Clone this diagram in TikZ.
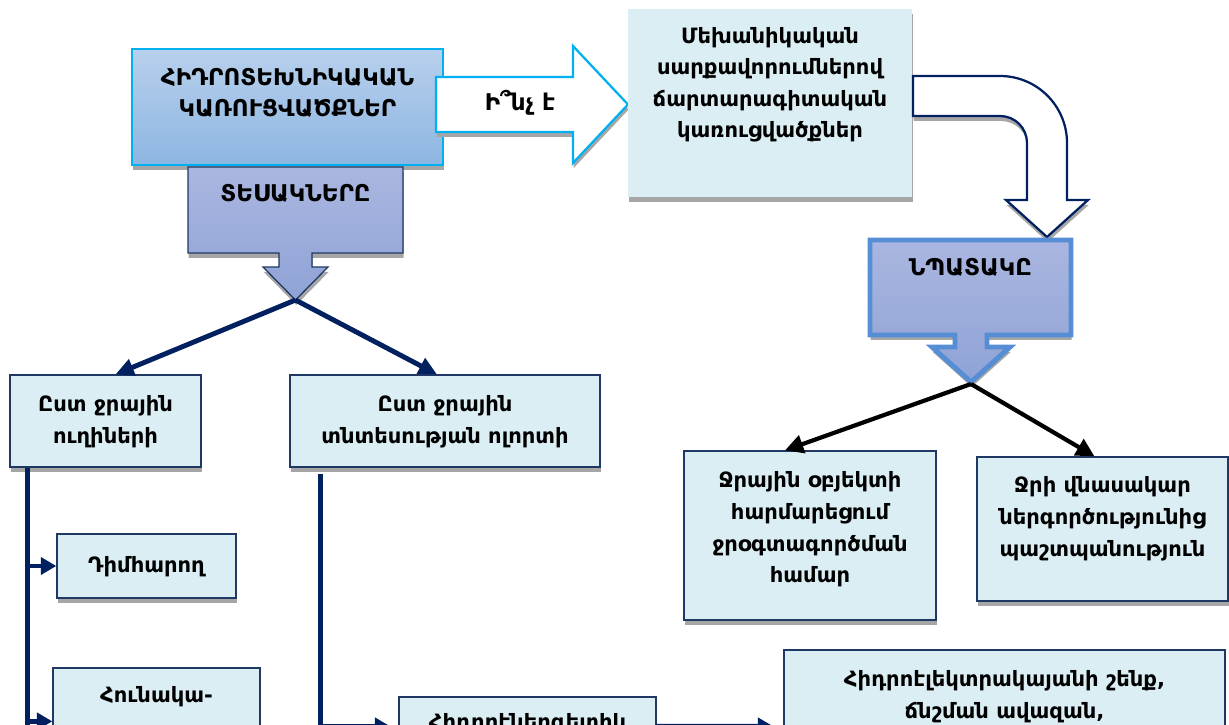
\documentclass[tikz,border=0pt]{standalone}
\usepackage{fontspec}
\setmainfont{DejaVu Sans}
\usetikzlibrary{arrows.meta, positioning, calc, shadows}
\definecolor{navyline}{RGB}{0,32,96}
\definecolor{boxfill}{RGB}{218,238,243}
\definecolor{boxedge}{RGB}{31,56,100}
\definecolor{cyanedge}{RGB}{0,176,240}
\definecolor{skytop}{RGB}{184,208,236}
\definecolor{skybot}{RGB}{141,182,226}
\definecolor{lavtop}{RGB}{170,182,224}
\definecolor{lavbot}{RGB}{143,163,214}
\definecolor{goaledge}{RGB}{85,142,213}
\definecolor{shadowgray}{RGB}{166,166,166}
% width, height, first baseline, text
\newcommand{\toptext}[4]{\parbox[c][#2][t]{#1}{\centering\rule{0pt}{#3}#4}}

\begin{document}
\begin{tikzpicture}[x=0.025cm, y=-0.025cm,
  font=\bfseries\fontsize{15}{22.5}\selectfont,
  capsfont/.style={font=\bfseries\fontsize{16.4}{21.7}\selectfont},
  shadowed/.style={drop shadow={shadow xshift=0.5pt, shadow yshift=-3.5pt, fill=shadowgray, opacity=1}},
  lightbox/.style={shadowed, draw=boxedge, line width=0.9pt, fill=boxfill, inner sep=0pt},
  skybox/.style={shadowed, capsfont, draw=cyanedge, line width=1pt, top color=skytop, bottom color=skybot, inner sep=0pt},
  lavshape/.style={shadowed, draw=boxedge, line width=0.9pt, top color=lavtop, bottom color=lavbot},
  goalshape/.style={shadowed, draw=goaledge, line width=3.5pt, top color=lavtop, bottom color=lavbot},
  hollowarrow/.style={shadowed, fill=white, line width=1.6pt},
  navyarrow/.style={draw=navyline, line width=3.5pt, -{Triangle[length=13pt, width=12pt]}},
  trunk/.style={draw=navyline, line width=3.5pt},
  branch/.style={draw=navyline, line width=3.5pt, -{Triangle[length=11pt, width=12pt]}},
  blackarrow/.style={draw=black, line width=3pt, -{Triangle[length=13pt, width=13pt]}}]

  \useasboundingbox[fill=white] (0,0) rectangle (1229,724);

  % top row
  \node[skybox] (hydro) at (287.5,107) {\toptext{7.775cm}{2.9cm}{26pt}{ՀԻԴՐՈՏԵԽՆԻԿԱԿԱՆ\\ԿԱՌՈՒՑՎԱԾՔՆԵՐ}};
  \path[lavshape] (188,167) -- (403,167) -- (403,253) -- (312,253) -- (312,267) -- (328,267)
    -- (295.5,300) -- (263,267) -- (279,267) -- (279,253) -- (188,253) -- cycle;
  \coordinate (typetip) at (295.5,300);
  \node[capsfont] (types) at (295.5,193.5) {ՏԵՍԱԿՆԵՐԸ};
  \path[hollowarrow, draw=cyanedge] (436,77) -- (573,77) -- (573,46) -- (628,104.5) -- (573,163) -- (573,132) -- (436,132) -- cycle;
  \node[capsfont] (whatis) at (520,103) {Ի՞նչ է};
  \node[shadowed, fill=boxfill, inner sep=0pt] (mech) at (770,103) {\toptext{7.1cm}{4.7cm}{24.2pt}{Մեխանիկական\\սարքավորումներով\\ճարտարագիտական\\կառուցվածքներ}};
  \path[hollowarrow, draw=navyline] (913,76) -- (1000,76) .. controls (1037,76) and (1067,106) .. (1067,143)
    -- (1067,200) -- (1088,200) -- (1047,237) -- (1006,200) -- (1027,200) -- (1027,143)
    .. controls (1027,128) and (1015,116) .. (1000,116) -- (913,116) -- cycle;
  \path[goalshape] (870,240) -- (1071,240) -- (1071,335) -- (987,335) -- (987,347) -- (1010,347)
    -- (971,382) -- (932,347) -- (955,347) -- (955,335) -- (870,335) -- cycle;
  \coordinate (goaltip) at (971,384);
  \node[capsfont] (goal) at (970.5,267.5) {ՆՊԱՏԱԿԸ};

  % kinds
  \node[lightbox] (byroute) at (105.5,421) {\toptext{4.775cm}{2.3cm}{26.3pt}{Ըստ ջրային\\ուղիների}};
  \node[lightbox] (bysector) at (445,421) {\toptext{7.75cm}{2.3cm}{26.3pt}{Ըստ ջրային\\տնտեսության ոլորտի}};
  \node[lightbox] (ramming) at (146.5,566) {\toptext{4.475cm}{1.6cm}{27.5pt}{Դիմհարող}};
  \node[lightbox] (gnode) at (156.5,734) {\toptext{5.175cm}{3.3cm}{24.2pt}{Հունակա-}};
  \node[lightbox] (hydroen) at (527.5,748.5) {\toptext{6.425cm}{2.575cm}{22.8pt}{Հիդրոէներգետիկ}};
  \node[lightbox] (hpp) at (1004.5,725) {\toptext{11.025cm}{3.75cm}{26.3pt}{Հիդրոէլեկտրակայանի շենք,\\ճնշման ավազան,}};

  % goals
  \node[lightbox] (adapt) at (810,535.5) {\toptext{6.3cm}{4.225cm}{26.3pt}{Ջրային օբյեկտի\\հարմարեցում\\ջրօգտագործման\\համար}};
  \node[lightbox] (protect) at (1102.5,529) {\toptext{6.275cm}{3.6cm}{25.6pt}{Ջրի վնասակար\\ներգործությունից\\պաշտպանություն}};

  % connectors
  \draw[navyarrow] (typetip) -- ($(byroute.north)+(10,0)$);
  \draw[navyarrow] (typetip) -- ($(bysector.north)+(-8,0)$);
  \draw[blackarrow] (goaltip) -- ($(adapt.north)+(-25,0)$);
  \draw[blackarrow] (goaltip) -- ($(protect.north)+(-8,0)$);

  \coordinate (ltrunk) at ($(byroute.south west)+(18,0)$);
  \coordinate (rtrunk) at ($(bysector.south west)+(31,6)$);
  \draw[trunk] (ltrunk) -- ++(0,300);
  \draw[trunk] (rtrunk) -- ++(0,300);
  \draw[branch] (ltrunk |- ramming.west) -- (ramming.west);
  \draw[branch] ($(ltrunk |- gnode.north west)+(0,54)$) -- ($(gnode.north west)+(0,54)$);
  \draw[branch] ($(rtrunk |- hydroen.north west)+(0,30)$) -- ($(hydroen.north west)+(-8,30)$);
  \draw[branch] ($(hydroen.north east)+(0,30)$) -- ($(hpp.north west)+(-10,77)$);
\end{tikzpicture}
\end{document}
